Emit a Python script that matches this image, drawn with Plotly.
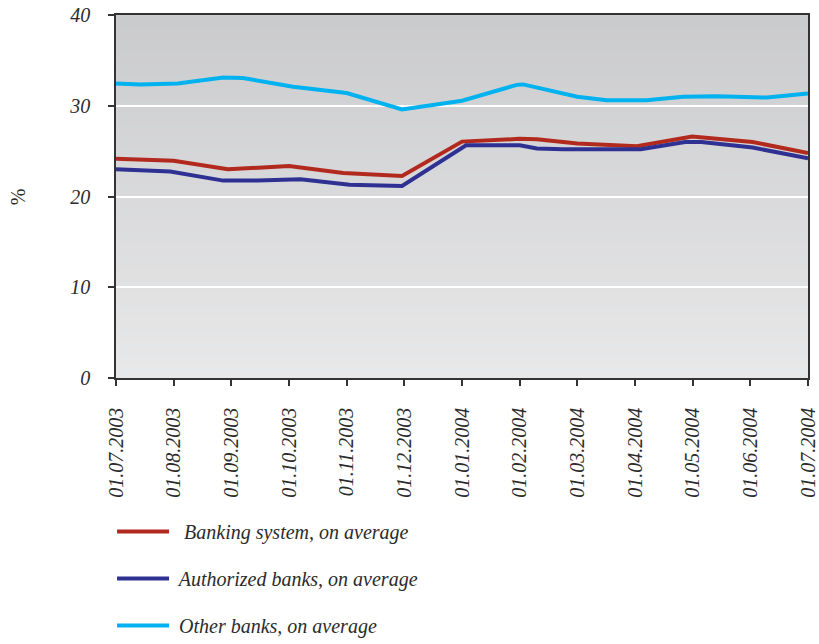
import plotly.graph_objects as go

# Tick labels (monthly, evenly spaced)
tick_labels = ["01.07.2003", "01.08.2003", "01.09.2003", "01.10.2003", "01.11.2003",
               "01.12.2003", "01.01.2004", "01.02.2004", "01.03.2004", "01.04.2004",
               "01.05.2004", "01.06.2004", "01.07.2004"]

# Months elapsed since 01.07.2003 and values (%)
banking_x = [0, 1.0, 1.94, 3.0, 3.94, 4.96, 6.0, 7.0, 7.3, 8.0, 9.03, 9.99, 11.04, 12]
banking_y = [24.15, 23.95, 23.0, 23.35, 22.6, 22.25, 26.05, 26.35, 26.3, 25.85, 25.55, 26.6, 26.0, 24.8]

authorized_x = [0, 0.94, 1.86, 2.45, 3.2, 4.05, 4.96, 6.07, 7.0, 7.3, 7.75, 9.1, 9.87, 10.15, 11.04, 12]
authorized_y = [23.0, 22.75, 21.75, 21.75, 21.9, 21.3, 21.15, 25.65, 25.65, 25.3, 25.2, 25.2, 26.0, 26.0, 25.4, 24.2]

other_x = [0, 0.42, 1.07, 1.86, 2.2, 3.07, 4.0, 4.96, 6.0, 6.95, 7.06, 8.0, 8.51, 9.2, 9.83, 10.42, 11.29, 12]
other_y = [32.45, 32.35, 32.45, 33.1, 33.05, 32.1, 31.4, 29.6, 30.55, 32.3, 32.35, 31.0, 30.6, 30.6, 31.0, 31.05, 30.9, 31.35]

names = ["  Banking system, on average", " Authorized banks, on average", " Other banks, on average"]
colors = ["#b22a1e", "#2e3192", "#00b2ef"]

FONT = "Liberation Serif"

fig = go.Figure()
series = [(banking_x, banking_y), (authorized_x, authorized_y), (other_x, other_y)]
for i, ((xs, ys), nm, col) in enumerate(zip(series, names, colors)):
    fig.add_trace(go.Scatter(
        x=xs, y=ys, mode="lines", name=nm, legendgroup=f"g{i}",
        line=dict(color=col, width=4),
    ))

# vertical gradient background of the plot area
n = 60
top = (202, 203, 205)
bot = (232, 232, 233)
for k in range(n):
    t = k / (n - 1)
    c = tuple(round(bot[j] + (top[j] - bot[j]) * t) for j in range(3))
    fig.add_shape(type="rect", xref="x domain", yref="y domain",
                  x0=0, x1=1, y0=k / n, y1=(k + 1) / n + 0.002,
                  fillcolor=f"rgb{c}", line=dict(width=0), layer="below")

fig.add_annotation(text="%", xref="paper", yref="paper", x=-0.142, y=0.5,
                   xanchor="center", yanchor="middle", textangle=-90, showarrow=False,
                   font=dict(family=FONT, size=20, color="#2b2b2b"))

fig.update_layout(
    width=819, height=644,
    margin=dict(l=116, r=11, t=15, b=266, autoexpand=False),
    paper_bgcolor="white",
    plot_bgcolor="#dadbdc",
    font=dict(family=FONT, size=20, color="#2b2b2b"),
    showlegend=True,
    legend=dict(
        xref="container", yref="container",
        x=0.1368, xanchor="left", y=0.205, yanchor="top",
        orientation="v", tracegroupgap=18,
        font=dict(family=FONT, size=20, color="#2b2b2b", style="italic"),
        bgcolor="rgba(0,0,0,0)", itemwidth=52,
    ),
)

fig.update_xaxes(
    range=[0, 12], automargin=False,
    tickmode="array", tickvals=list(range(len(tick_labels))), ticktext=tick_labels,
    tickangle=-90, ticks="outside", ticklen=6, tickcolor="#333", tickwidth=1.5,
    tickfont=dict(family=FONT, size=20, style="italic", color="#2b2b2b"),
    ticklabelstandoff=14,
    showgrid=False, zeroline=False,
    showline=True, linecolor="#333", linewidth=1.5, mirror=True,
)
fig.update_yaxes(
    range=[0, 40], tickvals=[0, 10, 20, 30, 40], automargin=False,
    ticks="outside", ticklen=6, tickcolor="#333", tickwidth=1.5,
    tickfont=dict(family=FONT, size=20, style="italic", color="#2b2b2b"),
    ticklabelstandoff=14,
    showgrid=True, gridcolor="white", gridwidth=2,
    zeroline=False,
    showline=True, linecolor="#333", linewidth=1.5, mirror=True,
)

fig.write_html("out.html", config={"displayModeBar": False},
               post_script="document.body.style.margin='0';")
